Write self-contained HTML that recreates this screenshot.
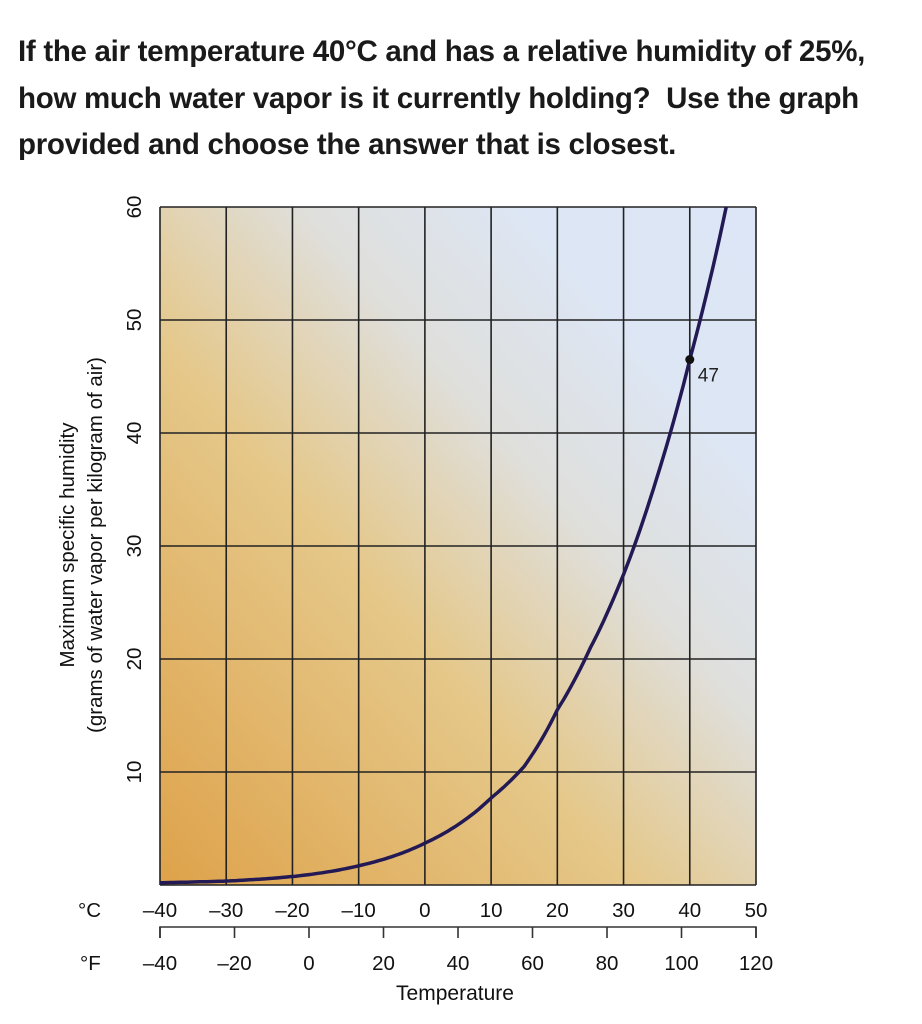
<!DOCTYPE html>
<html><head><meta charset="utf-8"><style>
body{margin:0;width:922px;height:1024px;background:#fff;overflow:hidden;font-family:"Liberation Sans",sans-serif}
.q{position:absolute;left:18px;top:29px;font-weight:bold;font-size:29.5px;line-height:46.5px;color:#1a1a1a;letter-spacing:-0.3px}
</style></head><body>
<div class="q">If the air temperature 40°C and has a relative humidity of 25%,<br>how much water vapor is it currently holding?&nbsp; Use the graph<br>provided and choose the answer that is closest.</div>
<svg id="c" width="922" height="1024" style="position:absolute;left:0;top:0">
<defs><linearGradient id="bg" x1="0" y1="1" x2="1" y2="0">
<stop offset="0" stop-color="#dea24a"/><stop offset="0.4" stop-color="#e5c88a"/><stop offset="0.62" stop-color="#dfdfdc"/><stop offset="0.8" stop-color="#dde6f4"/><stop offset="1" stop-color="#dce6f6"/></linearGradient></defs>
</svg>
<script>
const tempsC=[-40,-30,-20,-10,0,10,15,20,25,30,35,40,45.5];
const humidity=[0.2,0.35,0.75,1.7,3.7,7.7,10.5,15.5,21,27.5,36,46.5,60];
const yTicks=[10,20,30,40,50,60];
const cTicks=[-40,-30,-20,-10,0,10,20,30,40,50];
const fTicks=[-40,-20,0,20,40,60,80,100,120];
const markC=40, markV=46.5, markLabel="47";
const L=160,R=756,T=207,B=885;
const x=c=>L+(c+40)/90*(R-L);
const xf=f=>L+(f+40)/160*(R-L);
const y=v=>B-v/60*(B-T);
const s=document.getElementById('c');const NS='http://www.w3.org/2000/svg';
function mk(t,a,txt){const e=document.createElementNS(NS,t);for(const k in a)e.setAttribute(k,a[k]);if(txt!==undefined)e.textContent=txt;s.appendChild(e);return e;}
let e=mk('rect',{x:L,y:T,width:R-L,height:B-T,fill:'url(#bg)'});


cTicks.forEach(c=>{let l=mk('line',{x1:x(c),x2:x(c),y1:T,y2:B,stroke:'#222','stroke-width':1.6});


let t=mk('text',{x:x(c),y:917,'text-anchor':'middle','font-size':20.5,fill:'#111'},c<0?'\u2013'+(-c):String(c));

});
[0].concat(yTicks).forEach(v=>{let l=mk('line',{x1:L,x2:R,y1:y(v),y2:y(v),stroke:'#222','stroke-width':1.6});

});
yTicks.forEach(v=>{let t=mk('text',{x:0,y:0,'text-anchor':'middle','font-size':20.5,fill:'#111',transform:`translate(141,${y(v)}) rotate(-90)`},String(v));

});
let d='';for(let c=-40;c<=45.5;c+=0.5){let i=0;while(i<tempsC.length-2&&tempsC[i+1]<c)i++;
const t0=tempsC[i],t1=tempsC[i+1],l0=Math.log(humidity[i]),l1=Math.log(humidity[i+1]);
const v=Math.exp(l0+(l1-l0)*(c-t0)/(t1-t0));d+=(d?'L':'M')+x(c).toFixed(1)+','+y(v).toFixed(1);}
e=mk('path',{d:d,fill:'none',stroke:'#231a55','stroke-width':3.5});


e=mk('circle',{cx:x(markC),cy:y(markV),r:4.5,fill:'#111'});


e=mk('text',{x:x(markC)+8,y:y(markV)+22,'font-size':19,fill:'#222'},markLabel);


e=mk('text',{x:78,y:917,'font-size':20.5,fill:'#111'},'°C');


e=mk('text',{x:80,y:970,'font-size':20.5,fill:'#111'},'°F');


e=mk('path',{d:`M${L},938V927H${R}V938`,fill:'none',stroke:'#333','stroke-width':1.6});


fTicks.forEach(f=>{let l=mk('line',{x1:xf(f),x2:xf(f),y1:927,y2:938,stroke:'#333','stroke-width':1.6});


let t=mk('text',{x:xf(f),y:970,'text-anchor':'middle','font-size':20.5,fill:'#111'},f<0?'\u2013'+(-f):String(f));

});
e=mk('text',{x:455,y:1000,'text-anchor':'middle','font-size':21,fill:'#111'},'Temperature');


e=mk('text',{x:0,y:0,'text-anchor':'middle','font-size':20.5,fill:'#111',transform:'translate(74,545) rotate(-90)'},'Maximum specific humidity');


e=mk('text',{x:0,y:0,'text-anchor':'middle','font-size':20.5,fill:'#111',transform:'translate(102,545) rotate(-90)'},'(grams of water vapor per kilogram of air)');


</script>
</body></html>
